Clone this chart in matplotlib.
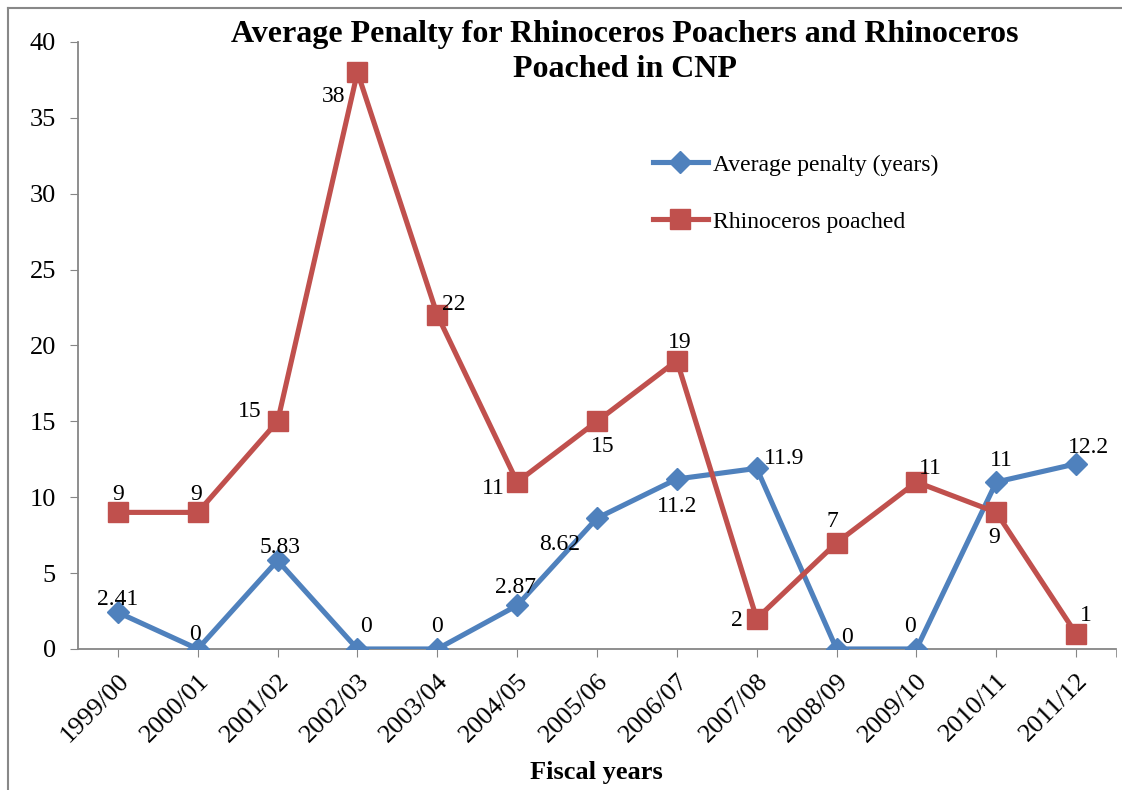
import matplotlib
matplotlib.use("Agg")
import matplotlib.pyplot as plt
from matplotlib.lines import Line2D
import numpy as np

plt.rcParams['font.family'] = ['Liberation Serif', 'DejaVu Serif']

years = ['1999/00', '2000/01', '2001/02', '2002/03', '2003/04', '2004/05', '2005/06',
         '2006/07', '2007/08', '2008/09', '2009/10', '2010/11', '2011/12']
penalty = [2.41, 0, 5.83, 0, 0, 2.87, 8.62, 11.2, 11.9, 0, 0, 11, 12.2]
poached = [9, 9, 15, 38, 22, 11, 15, 19, 2, 7, 11, 9, 1]

# label offsets in pixels (dx, dy) for each point
pen_off = [(0, 13), (-3, 14), (2, 13), (9, 22), (0, 22), (-2, 18), (-37, -26),
           (0, -28), (27, 10), (10, 11), (-6, 22), (5, 22), (12, 16)]
poa_off = [(0, 18), (-2, 18), (-28, 10), (-24, -24), (16, 11), (-24, -6), (6, -25),
           (3, 18), (-20, -2), (-4, 21), (14, 14), (-2, -25), (10, 18)]

blue = '#4F81BD'
red = '#C0504D'

fig = plt.figure(figsize=(11.22, 7.9), dpi=100)
ax = fig.add_axes([0.0695, 0.1785, 0.9252, 0.7685])
x = np.arange(len(years))

ax.plot(x, penalty, color=blue, lw=3.7, marker='D', ms=11.5, label='Average penalty (years)', zorder=3)
ax.plot(x, poached, color=red, lw=3.7, marker='s', ms=14.5, label='Rhinoceros poached', zorder=3)

for xi, v, (dx, dy) in zip(x, penalty, pen_off):
    ax.annotate('{:g}'.format(v), (xi, v), xytext=(dx, dy), textcoords='offset pixels',
                ha='center', va='center', fontsize=17, zorder=5)
for xi, v, (dx, dy) in zip(x, poached, poa_off):
    ax.annotate('{:g}'.format(v), (xi, v), xytext=(dx, dy), textcoords='offset pixels',
                ha='center', va='center', fontsize=17, zorder=5)

ax.set_xlim(-0.5, len(years) - 0.5)
ax.set_ylim(0, 40)
ax.set_yticks(range(0, 41, 5))
ax.set_xticks(x)
ax.set_xticks([len(years) - 0.5], minor=True)
ax.set_xticklabels(years, rotation=45, ha='right', rotation_mode='anchor', fontsize=19)
ax.tick_params(axis='y', labelsize=19, length=6, direction='out', color='#868686', pad=10)
ax.tick_params(axis='x', which='both', length=6, direction='out', color='#868686', pad=9)
for s in ['top', 'right']:
    ax.spines[s].set_visible(False)
for s in ['left', 'bottom']:
    ax.spines[s].set_color('#868686')
    ax.spines[s].set_linewidth(1.3)

fig.text(596 / 1122, 1 - 772 / 790, 'Fiscal years', ha='center', va='center',
         fontsize=19, fontweight='bold')
fig.text(625 / 1122, 1 - 52 / 790, 'Average Penalty for Rhinoceros Poachers and Rhinoceros\nPoached in CNP',
         ha='center', va='center', fontsize=23, fontweight='bold', linespacing=1.3)

ax.legend(loc='upper left', bbox_to_anchor=(0.533, 0.85), frameon=False, fontsize=17,
          handlelength=2.35, handletextpad=0.2, labelspacing=1.5)

# outer frame lines
fig.add_artist(Line2D([8 / 1122, 8 / 1122], [0, 1 - 8 / 790], color='#888888', lw=1.5))
fig.add_artist(Line2D([8 / 1122, 1], [1 - 8 / 790, 1 - 8 / 790], color='#888888', lw=1.5))

fig.savefig('out.png', dpi=100)
